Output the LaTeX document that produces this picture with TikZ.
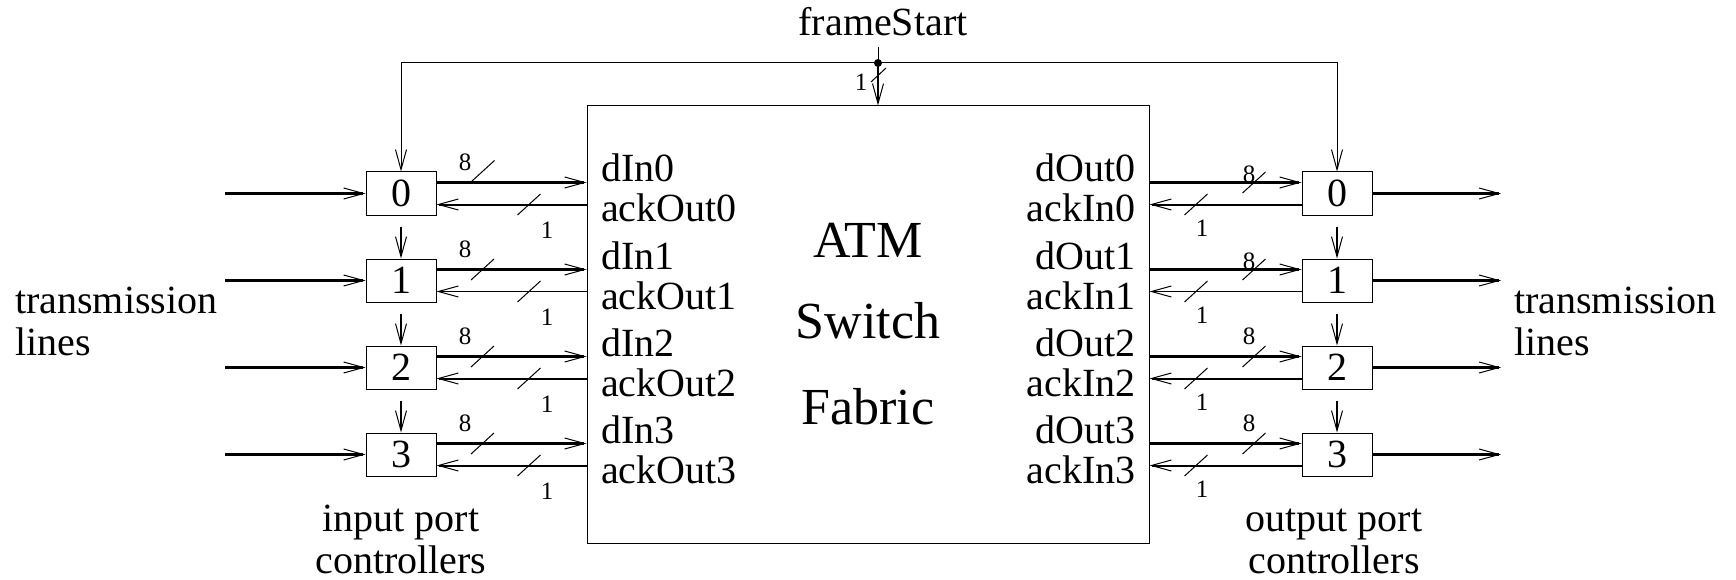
\documentclass[tikz,border=0pt]{standalone}
\usepackage{fontspec}
\setmainfont{Liberation Serif}
\usetikzlibrary{arrows.meta,calc}
\begin{document}
\begin{tikzpicture}[x=1pt,y=-1pt,
  tip/.style={-{Straight Barb[length=20pt,width=11pt,line width=1pt]}},
  thinw/.style={line width=1pt},
  vertw/.style={line width=1.5pt},
  dataw/.style={line width=3pt},
  port/.style={draw,line width=1pt,minimum width=70pt,minimum height=43pt,
    inner sep=0pt,font=\fontsize{40}{42}\selectfont},
  lbl/.style={font=\fontsize{40}{42}\selectfont,inner sep=0pt},
  big/.style={font=\fontsize{52}{56}\selectfont,inner sep=0pt},
  num/.style={font=\fontsize{25}{27}\selectfont,inner sep=0pt},
  busmark/.pic={\draw[line width=1pt] (-11.5,10.5) -- (11.5,-10.5);}]
\useasboundingbox (0,0) rectangle (1736,580);

% switch fabric
\node[draw,line width=1pt,minimum width=562pt,minimum height=437pt,inner sep=0pt]
  (fab) at (868,324.5) {};
\node[big,anchor=base] (atm) at (868,257) {ATM};
\node[big,anchor=base] (sw) at (868,338) {Switch};
\node[big,anchor=base] (fb) at (868,424) {Fabric};

% port controllers, signal names and links
\foreach \k/\aw in {0/2,1/1,2/2,3/2}{
  \pgfmathsetmacro\yc{193.5+87*\k}
  \node[port] (i\k) at (401,\yc) {\k};
  \node[port] (o\k) at (1337,\yc) {\k};
  \coordinate (in\k) at (225,\yc);
  \coordinate (out\k) at (1501,\yc);
  \draw[dataw,tip] (in\k) -- (i\k.west);
  \draw[dataw,tip] (o\k.east) -- (out\k);
  % data and acknowledge links
  \draw[dataw,tip] ([yshift=11pt]i\k.east) -- ([yshift=11pt]i\k.east -| fab.west);
  \draw[line width=\aw pt,tip] ([yshift=-11pt]i\k.east -| fab.west) -- ([yshift=-11pt]i\k.east);
  \draw[dataw,tip] ([yshift=11pt]o\k.west -| fab.east) -- ([yshift=11pt]o\k.west);
  \draw[line width=\aw pt,tip] ([yshift=-11pt]o\k.west) -- ([yshift=-11pt]o\k.west -| fab.east);
  % port names on the fabric
  \node[lbl,anchor=base west] (din\k) at (601,182+87*\k) {dIn\k};
  \node[lbl,anchor=base west] (aout\k) at (601,222+87*\k) {ackOut\k};
  \node[lbl,anchor=base east] (dout\k) at (1136,182+87*\k) {dOut\k};
  \node[lbl,anchor=base east] (ain\k) at (1136,222+87*\k) {ackIn\k};
  % bus width marks
  \pic at (529,\yc+11) {busmark};
  \node[num] (wa\k) at (547,\yc+37) {1};
  \pic at (1196,\yc+11) {busmark};
  \node[num] (wb\k) at (1202,\yc+35) {1};
  \pic at (1254,\yc-11) {busmark};
  \node[num] (wd\k) at (465,\yc-31) {8};
}
\pic at (483,171) {busmark};
\foreach \k in {1,2,3}{\pic at (482.5,193.5+87*\k-11) {busmark};}
\node[num] (we0) at (1249,174.5) {8};
\node[num] (we1) at (1249,261.5) {8};
\node[num] (we2) at (1249,336.5) {8};
\node[num] (we3) at (1249,423.5) {8};

% frame start chain between controllers
\foreach \k/\n in {0/1,1/2,2/3}{
  \draw[vertw,tip] ([yshift=-11pt]i\k.south) -- (i\n.north);
  \draw[vertw,tip] ([yshift=-11pt]o\k.south) -- (o\n.north);
}

% frameStart distribution
\node[lbl,anchor=base] (fsl) at (883,36) {frameStart};
\coordinate (fs) at (878,63);
\coordinate (fstop) at (878,47);
\draw[thinw] (fstop) -- (fs);
\draw[thinw,tip] (fs) -| (i0.north);
\draw[thinw,tip] (fs) -| (o0.north);
\draw[vertw,tip] (fs) -- (fs |- fab.north);
\fill (fs) circle (4pt);
\draw[thinw] (871,82) -- (886,68);
\node[num] (wf) at (861,82) {1};

% side labels
\node[lbl,anchor=base west] (tl1) at (15,313) {transmission};
\node[lbl,anchor=base west] (tl2) at (15,355) {lines};
\node[lbl,anchor=base west] (tr1) at (1514,313) {transmission};
\node[lbl,anchor=base west] (tr2) at (1514,355) {lines};
\node[lbl,anchor=base] (ip1) at (401,531) {input port};
\node[lbl,anchor=base] (ip2) at (401,573) {controllers};
\node[lbl,anchor=base] (op1) at (1334,531) {output port};
\node[lbl,anchor=base] (op2) at (1334,573) {controllers};
\end{tikzpicture}
\end{document}
